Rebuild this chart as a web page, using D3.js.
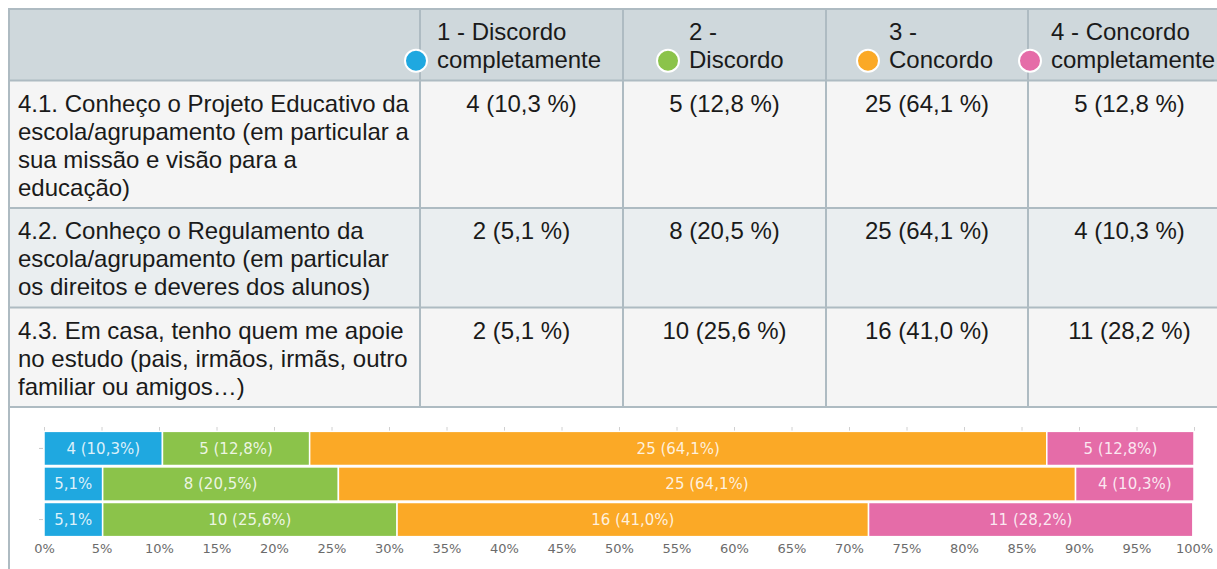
<!DOCTYPE html>
<html><head><meta charset="utf-8">
<script src="https://cdn.jsdelivr.net/npm/d3@7"></script>
<style>
html,body{margin:0;padding:0;background:#fff;overflow:hidden;}
svg{display:block;}
</style></head>
<body><svg id="c" width="1217" height="569"></svg>
<script>
// ---------- DATA ----------
const categories = [
  ["4.1. Conheço o Projeto Educativo da", "escola/agrupamento (em particular a", "sua missão e visão para a", "educação)"],
  ["4.2. Conheço o Regulamento da", "escola/agrupamento (em particular", "os direitos e deveres dos alunos)"],
  ["4.3. Em casa, tenho quem me apoie", "no estudo (pais, irmãos, irmãs, outro", "familiar ou amigos…)"]
];
const seriesNames = [["1 - Discordo", "completamente"], ["2 -", "Discordo"], ["3 -", "Concordo"], ["4 - Concordo", "completamente"]];
const counts = [
  [4, 5, 25, 5],
  [2, 8, 25, 4],
  [2, 10, 16, 11]
];
const percents = [
  [10.3, 12.8, 64.1, 12.8],
  [5.1, 20.5, 64.1, 10.3],
  [5.1, 25.6, 41.0, 28.2]
];
const tickValues = [0,5,10,15,20,25,30,35,40,45,50,55,60,65,70,75,80,85,90,95,100];
const colors = ["#1fa8e0", "#8bc34a", "#fba926", "#e56ca8"];

// ---------- LAYOUT ----------
const svg = d3.select("#c");
const W = 1217;
const tableLeft = 9, tableTop = 9, lineH = 28, vpad = 7.75;
const colX = [9, 420, 623, 826, 1028, 1231];
const headerTextOffset = [17, 66, 63, 23];
const border = "#aebbc2";
const tfont = "'Liberation Sans', Arial, sans-serif";
const tsize = 24;
const fmt = v => d3.format(".1f")(v).replace(".", ",");

// row tops computed from line counts
const rowLines = [2].concat(categories.map(c => c.length));
const rowTops = [tableTop];
rowLines.forEach((n, i) => rowTops.push(rowTops[i] + n * lineH + 2 * vpad));
const rowFill = ["#cfd8dc", "#f5f5f5", "#eaeef0", "#f5f5f5"];

const tbl = svg.append("g");
// backgrounds
tbl.selectAll("rect.rowbg").data(rowLines).join("rect")
  .attr("x", tableLeft).attr("y", (d, i) => rowTops[i])
  .attr("width", W - tableLeft).attr("height", (d, i) => rowTops[i + 1] - rowTops[i])
  .attr("fill", (d, i) => rowFill[i]);
// horizontal lines
tbl.selectAll("line.h").data(rowTops).join("line")
  .attr("x1", tableLeft).attr("x2", W).attr("y1", d => d).attr("y2", d => d)
  .attr("stroke", border).attr("stroke-width", 2);
// vertical lines
tbl.selectAll("line.v").data(colX.slice(1, 5)).join("line")
  .attr("x1", d => d).attr("x2", d => d).attr("y1", tableTop).attr("y2", rowTops[4])
  .attr("stroke", border).attr("stroke-width", 2);
// left border full height
tbl.append("line").attr("x1", tableLeft).attr("x2", tableLeft).attr("y1", tableTop - 1).attr("y2", 569)
  .attr("stroke", border).attr("stroke-width", 2);

// header
seriesNames.forEach((lines, j) => {
  const tx = colX[j + 1] + headerTextOffset[j];
  const g = tbl.append("g");
  g.selectAll("text").data(lines).join("text")
    .attr("x", tx).attr("y", (d, k) => rowTops[0] + vpad + k * lineH + 23.5)
    .attr("font-family", tfont).attr("font-size", tsize).attr("fill", "#1a1a1a")
    .text(d => d);
  g.append("circle").attr("cx", tx - 21).attr("cy", rowTops[0] + vpad + lineH + 16)
    .attr("r", 11).attr("fill", colors[j]).attr("stroke", "#fff").attr("stroke-width", 2);
});

// category rows
categories.forEach((lines, i) => {
  const top = rowTops[i + 1];
  tbl.append("g").selectAll("text").data(lines).join("text")
    .attr("x", 18).attr("y", (d, k) => top + vpad + k * lineH + 23.5)
    .attr("font-family", tfont).attr("font-size", tsize).attr("fill", "#1a1a1a")
    .text(d => d);
  counts[i].forEach((c, j) => {
    tbl.append("text")
      .attr("x", (colX[j + 1] + colX[j + 2]) / 2)
      .attr("y", top + vpad + 23.5)
      .attr("text-anchor", "middle")
      .attr("font-family", tfont).attr("font-size", tsize).attr("fill", "#1a1a1a")
      .text(`${c} (${fmt(percents[i][j])} %)`);
  });
});

// ---------- CHART ----------
const x = d3.scaleLinear().domain([0, 100]).range([44, 1194]);
const y = d3.scaleBand().domain(d3.range(categories.length)).range([431, 537]).paddingInner(0.04).paddingOuter(0.01);
const cfont = "'DejaVu Sans', sans-serif";

// top ticks
const topAxis = d3.axisTop(x).tickValues(tickValues).tickSize(4).tickFormat("");
const ta = svg.append("g").attr("transform", "translate(0,431)").call(topAxis);
ta.select(".domain").remove();
ta.selectAll("line").attr("stroke", "#d0d0d0");

// left ticks (every other category)
const leftAxis = d3.axisLeft(y).tickValues([0, 2]).tickSize(4).tickFormat("");
const la = svg.append("g").attr("transform", "translate(43,0)").call(leftAxis);
la.select(".domain").remove();
la.selectAll("line").attr("stroke", "#c8c8c8");

// stacked
const stackData = percents.map((row, i) => {
  let acc = 0;
  return row.map((p, j) => { const s = acc; acc += p; return { i, j, x0: s, x1: Math.min(acc, 100), p, c: counts[i][j] }; });
}).flat();

const bars = svg.append("g");
bars.selectAll("rect").data(stackData).join("rect")
  .attr("x", d => x(d.x0)).attr("y", d => y(d.i))
  .attr("width", d => x(d.x1) - x(d.x0)).attr("height", y.bandwidth())
  .attr("fill", d => colors[d.j]).attr("stroke", "#fff").attr("stroke-width", 1.5);

const lbl = bars.selectAll("text").data(stackData).join("text")
  .attr("x", d => (x(d.x0) + x(d.x1)) / 2)
  .attr("y", d => y(d.i) + y.bandwidth() / 2)
  .attr("dy", "0.35em")
  .attr("text-anchor", "middle")
  .attr("font-family", cfont).attr("font-size", 15)
  .attr("fill", "#fff").attr("fill-opacity", 0.85)
  .text(d => `${d.c} (${fmt(d.p)}%)`);
lbl.each(function (d) {
  const w = x(d.x1) - x(d.x0);
  if (this.getComputedTextLength() + 8 > w) d3.select(this).text(`${fmt(d.p)}%`);
});

// bottom axis labels
const botAxis = d3.axisBottom(x).tickValues(tickValues).tickSize(0).tickPadding(0).tickFormat(d => d + "%");
const ba = svg.append("g").attr("transform", "translate(0,539)").call(botAxis);
ba.select(".domain").remove();
ba.selectAll("text").attr("font-family", cfont).attr("font-size", 13).attr("fill", "#6b6b6b").attr("dy", "1.05em");
</script></body></html>
